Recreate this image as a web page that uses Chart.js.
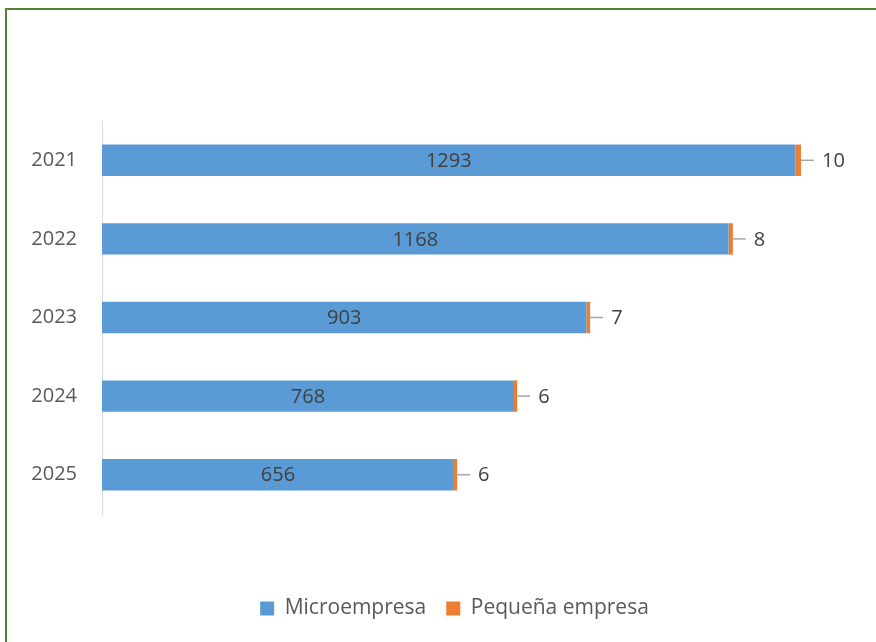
<!DOCTYPE html>
<html lang="es">
<head>
    <script src="https://cdn.jsdelivr.net/npm/chart.js@4.4.0/dist/chart.umd.min.js"></script>
    <style>
        html, body {
            margin: 0;
            padding: 0;
            overflow: hidden;
            background: #ffffff;
        }
        #frame {
            position: absolute;
            left: 5px;
            top: 8px;
            width: 1000px;
            height: 800px;
            border: 2px solid #548235;
        }
        #canvas-container {
            position: absolute;
            left: 0;
            top: 0;
            width: 876px;
            height: 642px;
        }
    </style>
</head>
<body>

<div id="frame"></div>
<div id="canvas-container">
    <canvas id="bar-chart"></canvas>
</div>

<script>
    // data
    const years = ["2021", "2022", "2023", "2024", "2025"];
    const micro = [1293, 1168, 903, 768, 656];
    const pequena = [10, 8, 7, 6, 6];

    const FONT = "'Open Sans', 'DejaVu Sans', sans-serif";

    // value labels: centred inside for the first series, outside with a leader line for the second
    const barLabels = {
        id: "barLabels",
        afterDatasetsDraw(chart) {
            const ctx = chart.ctx;
            ctx.save();
            ctx.font = "20px " + FONT;
            ctx.fillStyle = "#404040";
            ctx.textBaseline = "middle";

            const inner = chart.getDatasetMeta(0);
            inner.data.forEach((bar, i) => {
                ctx.textAlign = "center";
                ctx.fillText(String(micro[i]), (bar.x + bar.base) / 2, bar.y + 1);
            });

            const outer = chart.getDatasetMeta(1);
            outer.data.forEach((bar, i) => {
                ctx.strokeStyle = "#a6a6a6";
                ctx.lineWidth = 1.5;
                ctx.beginPath();
                ctx.moveTo(bar.x, bar.y);
                ctx.lineTo(bar.x + 13, bar.y);
                ctx.stroke();
                ctx.textAlign = "left";
                ctx.fillText(String(pequena[i]), bar.x + 21, bar.y + 1);
            });
            ctx.restore();
        }
    };

    // nudge the legend right so it sits centred in the frame, not over the plot
    const legendShift = {
        id: "legendShift",
        afterLayout(chart) {
            if (chart.legend) {
                chart.legend.left += 28;
                chart.legend.right += 28;
            }
        }
    };

    const ctx = document.getElementById("bar-chart").getContext("2d");

    new Chart(ctx, {
        type: "bar",
        data: {
            labels: years,
            datasets: [
                {
                    label: "Microempresa",
                    data: micro,
                    backgroundColor: "#5b9bd5",
                    borderWidth: 0
                },
                {
                    label: "Pequeña empresa",
                    data: pequena,
                    backgroundColor: "#ed7d31",
                    borderWidth: 0
                }
            ]
        },
        options: {
            indexAxis: "y",
            responsive: true,
            maintainAspectRatio: false,
            animation: false,
            datasets: {
                bar: {
                    categoryPercentage: 0.4,
                    barPercentage: 1
                }
            },
            layout: {
                padding: { top: 121, right: 23, bottom: 13, left: 0 }
            },
            scales: {
                x: {
                    stacked: true,
                    min: 0,
                    max: 1400,
                    grid: { display: false },
                    border: { display: false },
                    ticks: { display: false },
                    afterFit: (scale) => { scale.height = 64; }
                },
                y: {
                    stacked: true,
                    grid: { display: false },
                    border: { display: true, color: "#d9d9d9", width: 1 },
                    ticks: {
                        color: "#595959",
                        padding: 17,
                        font: { family: FONT, size: 20 }
                    },
                    afterFit: (scale) => { scale.width = 102; }
                }
            },
            plugins: {
                legend: {
                    position: "bottom",
                    labels: {
                        color: "#595959",
                        boxWidth: 14,
                        boxHeight: 14,
                        padding: 20,
                        font: { family: FONT, size: 21 }
                    }
                },
                tooltip: { enabled: false }
            }
        },
        plugins: [barLabels, legendShift]
    });
</script>

</body>
</html>
